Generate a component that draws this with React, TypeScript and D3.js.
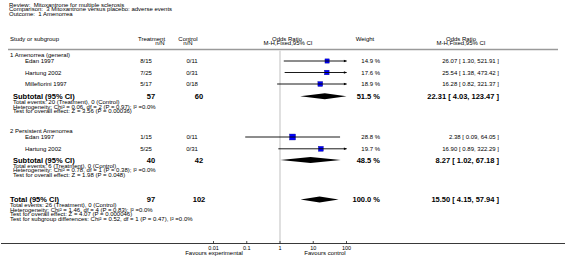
import React from "react";
import * as d3 from "d3";

// ---------- data ----------
const titleLabels = ["Review:", "Comparison:", "Outcome:"];
const titleValues = ["Mitoxantrone for multiple sclerosis", "3 Mitoxantrone versus placebo: adverse events", "1 Amenorrea"];

const groupNames = ["1 Amenorrea (general)", "2 Persistent Amenorrea"];
const studyNames = [["Edan 1997", "Hartung 2002", "Millefiorini 1997"], ["Edan 1997", "Hartung 2002"]];
const treatmentNN = [["8/15", "7/25", "5/17"], ["1/15", "5/25"]];
const controlNN = [["0/11", "0/31", "0/18"], ["0/11", "0/31"]];
const orValues = [[26.07, 25.54, 16.28], [2.38, 16.9]];
const orLower = [[1.3, 1.38, 0.82], [0.09, 0.89]];
const orUpper = [[521.91, 473.42, 321.37], [64.05, 322.29]];
const weights = [[14.9, 17.6, 18.9], [28.8, 19.7]];

const subTreatN = [57, 40];
const subControlN = [60, 42];
const subOR = [22.31, 8.27];
const subLower = [4.03, 1.02];
const subUpper = [123.47, 67.18];
const subWeight = [51.5, 48.5];
const subStats = [
  ["Total events: 20 (Treatment), 0 (Control)", "Heterogeneity: Chi² = 0.06, df = 2 (P = 0.97); I² =0.0%", "Test for overall effect: Z = 3.56 (P = 0.00036)"],
  ["Total events: 6 (Treatment), 0 (Control)", "Heterogeneity: Chi² = 0.78, df = 1 (P = 0.38); I² =0.0%", "Test for overall effect: Z = 1.98 (P = 0.048)"],
];

const totalTreatN = 97;
const totalControlN = 102;
const totalOR = 15.5;
const totalLower = 4.15;
const totalUpper = 57.94;
const totalWeight = 100.0;
const totalStats = [
  "Total events: 26 (Treatment), 0 (Control)",
  "Heterogeneity: Chi² = 1.46, df = 4 (P = 0.83); I² =0.0%",
  "Test for overall effect: Z = 4.07 (P = 0.000046)",
  "Test for subgroup differences: Chi² = 0.52, df = 1 (P = 0.47), I² =0.0%",
];

const tickValues = [0.01, 0.1, 1, 10, 100];
const tickLabels = ["0.01", "0.1", "1", "10", "100"];
const favourLeft = "Favours experimental";
const favourRight = "Favours control";

// ---------- layout ----------
const W = 566, H = 260;
const FONT = "'Liberation Sans', Arial, sans-serif";
const FS = 6;
const FB = 7.5;

const fmtOR = (o: number, l: number, u: number) => `${o.toFixed(2)} [ ${l.toFixed(2)}, ${u.toFixed(2)} ]`;
const fmtW = (w: number) => `${w.toFixed(1)} %`;

export default function App() {
  const x = d3.scaleLog().domain([0.01, 100]).range([213.5, 346.5]);
  const [xmin, xmax] = x.range();
  const clampX = (v: number) => Math.max(xmin, Math.min(xmax, x(v)));

  const colStudy = 25;
  const colLeft = 10;
  const colTreat = 146, colTreatB = 151;
  const colCtrl = 192, colCtrlB = 199;
  const colWeight = 380;
  const colOR = 499;

  const groupHeaderY = [55, 130.5];
  const studyY = [[61, 72.5, 84], [137, 148.8]];
  const subtotalY = [96.3, 160];
  const totalY = 199.5;
  const lineGap = 4.6;

  const txt = (s: string, xx: number, yy: number, anchor = "start", bold = false, size?: number, key?: any) => (
    <text key={key} x={xx} y={yy} dy="0.35em" textAnchor={anchor} fontFamily={FONT}
      fontSize={size ?? (bold ? FB : FS)} fontWeight={bold ? "bold" : "normal"} fill="#000"
      xmlSpace="preserve" style={{ whiteSpace: "pre" }}>{s}</text>
  );

  const diamond = (o: number, l: number, u: number, y: number, key: any) => {
    const h = 3;
    const pts = [[clampX(l), y], [x(o), y - h], [clampX(u), y], [x(o), y + h]];
    return <polygon key={key} points={pts.map(p => p.join(",")).join(" ")} fill="#000" />;
  };

  const studyMark = (o: number, l: number, u: number, w: number, y: number, key: any) => {
    const s = 1.1 * Math.sqrt(w);
    const x1 = clampX(l), x2 = clampX(u);
    return (
      <g key={key}>
        <rect x={x(o) - s / 2} y={y - s / 2} width={s} height={s} fill="#0000ff" stroke="#00008b" strokeWidth={0.4} />
        <line x1={x1} x2={x2} y1={y} y2={y} stroke="#000" strokeWidth={0.9} />
        {u > 100 && <polygon points={`${xmax - 2.6},${y - 1.3} ${xmax + 0.5},${y} ${xmax - 2.6},${y + 1.3}`} fill="#000" />}
        {l < 0.01 && <polygon points={`${xmin + 2.6},${y - 1.3} ${xmin - 0.5},${y} ${xmin + 2.6},${y + 1.3}`} fill="#000" />}
      </g>
    );
  };

  const axisY = 243.5;

  return (
    <svg width={W} height={H} style={{ position: "absolute", left: 0, top: 0, background: "#fff" }}>
      <rect width={W} height={H} fill="#fff" />
      {/* title block */}
      {titleLabels.map((t, i) => txt(`${t}  ${titleValues[i]}`, 9, 4.8 + i * 4.4, "start", false, FS, "tl" + i))}

      {/* headers */}
      {txt("Study or subgroup", colLeft, 38.5)}
      {txt("Treatment", 151.5, 38.5, "middle")}
      {txt("n/N", 160, 43.3, "middle")}
      {txt("Control", 188, 38.5, "middle")}
      {txt("n/N", 188, 43.3, "middle")}
      {txt("Odds Ratio", 287, 38.5, "middle")}
      {txt("M-H,Fixed,95% CI", 288, 43.3, "middle")}
      {txt("Weight", 365, 38.5, "middle")}
      {txt("Odds Ratio", 461, 38.5, "middle")}
      {txt("M-H,Fixed,95% CI", 461, 43.3, "middle")}
      <line x1={8} x2={558} y1={49.5} y2={49.5} stroke="#9a9a9a" strokeWidth={1.6} />

      {/* line of no effect */}
      <line x1={x(1)} x2={x(1)} y1={50.5} y2={axisY} stroke="#d8d8d8" strokeWidth={1.6} />

      {groupNames.map((g, gi) => (
        <g key={"g" + gi}>
          {txt(g, colLeft, groupHeaderY[gi])}
          {studyNames[gi].map((s, si) => {
            const y = studyY[gi][si];
            return (
              <g key={"s" + si}>
                {txt(s, colStudy, y)}
                {txt(treatmentNN[gi][si], colTreat, y, "middle")}
                {txt(controlNN[gi][si], colCtrl, y, "middle")}
                {studyMark(orValues[gi][si], orLower[gi][si], orUpper[gi][si], weights[gi][si], y, "m")}
                {txt(fmtW(weights[gi][si]), colWeight, y, "end")}
                {txt(fmtOR(orValues[gi][si], orLower[gi][si], orUpper[gi][si]), colOR, y, "end")}
              </g>
            );
          })}
          {txt("Subtotal (95% CI)", colLeft + 3, subtotalY[gi], "start", true)}
          {txt(String(subTreatN[gi]), colTreatB, subtotalY[gi], "middle", true)}
          {txt(String(subControlN[gi]), colCtrlB, subtotalY[gi], "middle", true)}
          {diamond(subOR[gi], subLower[gi], subUpper[gi], subtotalY[gi], "d")}
          {txt(fmtW(subWeight[gi]), colWeight, subtotalY[gi], "end", true)}
          {txt(fmtOR(subOR[gi], subLower[gi], subUpper[gi]), colOR, subtotalY[gi], "end", true)}
          {subStats[gi].map((s, k) => txt(s, colLeft + 3, subtotalY[gi] + 5.6 + k * lineGap, "start", false, FS, "st" + k))}
        </g>
      ))}

      {/* total */}
      {txt("Total (95% CI)", colLeft, totalY, "start", true)}
      {txt(String(totalTreatN), colTreatB, totalY, "middle", true)}
      {txt(String(totalControlN), colCtrlB, totalY, "middle", true)}
      {diamond(totalOR, totalLower, totalUpper, totalY, "td")}
      {txt(fmtW(totalWeight), colWeight, totalY, "end", true)}
      {txt(fmtOR(totalOR, totalLower, totalUpper), colOR, totalY, "end", true)}
      {totalStats.map((s, k) => txt(s, colLeft, totalY + 5.6 + k * lineGap, "start", false, FS, "ts" + k))}

      {/* axis */}
      <line x1={1} x2={565} y1={axisY} y2={axisY} stroke="#222" strokeWidth={0.9} />
      {tickValues.map((t, i) => (
        <g key={"t" + i}>
          <line x1={x(t)} x2={x(t)} y1={axisY - 2.5} y2={axisY} stroke="#222" strokeWidth={0.8} />
          {txt(tickLabels[i], x(t), axisY + 4.8, "middle", false, 5.5)}
        </g>
      ))}
      {txt(favourLeft, 214, 253.3, "middle")}
      {txt(favourRight, 325, 253.3, "middle")}
    </svg>
  );
}
